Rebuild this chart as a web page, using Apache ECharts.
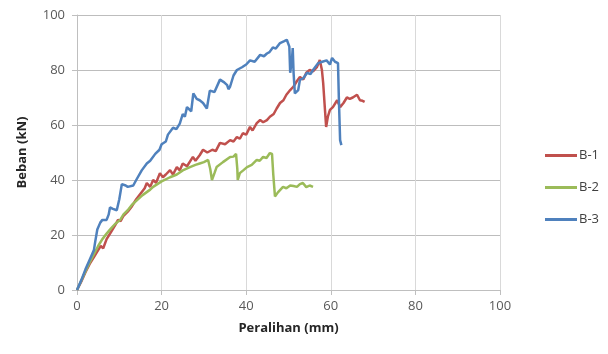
<!DOCTYPE html>
<html>
<head>
<meta charset="utf-8">
<script src="https://cdn.jsdelivr.net/npm/echarts@6/dist/echarts.min.js"></script>
<style>
  html, body { margin: 0; padding: 0; background: #fff; }
  #chart { width: 608px; height: 354px; }
</style>
</head>
<body>
<div id="chart"></div>
<script>
// tick labels and names
var seriesNames = ['B-1', 'B-2', 'B-3'];
var seriesColors = ['#C0504D', '#9BBB59', '#4F81BD'];

// [peralihan (mm), beban (kN)]
var b1 = [[0,0],[1,3],[2,6.5],[3,9.5],[4,12],[5,14.5],[5.6,16],[6.2,15.2],[7,18.5],[8,21],[9,23.5],[9.7,25.5],[10.3,25],[11,27],[12,28.5],[13,30.5],[14,33],[15,35],[16,37],[16.5,38.9],[17.3,37.5],[18,40],[18.7,39],[19.6,42.5],[20.3,41],[21,42],[22,43.6],[22.7,42],[23.6,44.7],[24.3,43.5],[25,46],[26,45],[27.4,48.4],[28,47],[29,49],[29.8,51],[30.8,50],[32,51],[32.8,50.5],[33.8,53.5],[35,53],[36.2,54.5],[37,54],[37.8,55.6],[38.5,55],[39.2,57],[40,56.5],[40.9,59.3],[41.5,58],[42.5,60.7],[43.3,61.8],[44,61],[44.9,61.8],[45.6,63],[46.5,64],[47.2,66],[48,68],[48.8,69],[49.5,71],[50.4,72.7],[51.2,74],[52,76],[52.7,77.5],[53.5,76.5],[54.2,79],[55,80],[55.8,79.5],[56.7,81],[57.4,83.6],[57.9,80],[58.2,75.2],[58.6,66],[58.9,59.3],[59.3,63],[59.8,65.5],[60.5,66.5],[61.5,69],[62.2,66.5],[63,68],[63.8,70],[64.5,69.5],[65.2,70],[66.2,71],[66.9,69],[67.5,68.8],[68,68.4]];

var b2 = [[0,0],[1,3.4],[2,6.8],[3,10],[4,13],[5,16],[5.4,17],[6,18.5],[7,20.5],[8,22.3],[9,24],[10.2,25.5],[11,27.5],[12,29],[13,31],[14.2,32.7],[15.5,34.5],[17.3,36.5],[18,37.5],[20,39.5],[22,41],[23.6,42],[25,43.5],[26.7,44.7],[28,45.5],[29,46],[30,46.5],[31,47.3],[31.5,44],[31.9,40],[32.5,42.5],[33,44.7],[34.5,46.5],[36.2,48.4],[37,48.5],[37.6,49.5],[37.9,44],[38,40],[38.5,42.5],[39.3,43.5],[40.2,44.7],[41.3,45.5],[42.5,47.3],[43.2,47],[44,48.4],[44.8,48],[45.6,49.8],[46.1,49.5],[46.4,42],[46.8,34],[47.5,35.5],[48.7,37.5],[49.5,37],[50.4,38],[51.2,37.8],[52,37.5],[52.7,38.5],[53.4,38.9],[54.2,37.4],[55,38],[55.8,37.5]];

var b3 = [[0,0],[1,3.5],[2,7.5],[3,11],[4,14.5],[4.3,17.5],[4.8,22],[5.5,24.5],[6,25.5],[7,25.5],[7.5,27.5],[7.8,30],[8.5,29.5],[9.4,29],[10,33],[10.6,38.5],[11.5,38],[12,37.5],[13.3,38],[14,40],[15.3,43.5],[16.5,46],[17.3,47],[18.5,49.5],[19.5,51],[20,53],[21,54],[21.5,56.5],[22.7,59],[23.5,58.5],[24.3,60.5],[25,64],[25.5,63],[26,66.5],[27,65],[27.5,71.5],[28.3,69.5],[29,69],[29.8,68],[30.7,66],[31.4,72.5],[32.5,72],[33.8,76.5],[34.8,75.5],[35.5,74.5],[35.8,73],[36.2,74],[37,78],[37.8,80],[39,81],[40,82],[40.9,83.5],[42,83],[43.3,85.5],[44.2,85],[44.9,86],[45.5,86.5],[46.3,88.2],[47,87.8],[48,89.8],[49,90.5],[49.6,91],[50.2,88.5],[50.4,79],[50.8,83.5],[51,88],[51.2,79],[51.5,71.5],[52.3,72.7],[52.7,76.4],[53.5,77],[54.4,79],[55.2,78.5],[55.8,80],[57,82.5],[58,83],[59,83.5],[59.8,82],[60.3,84.4],[61,83],[61.7,82.5],[61.9,70],[62.2,54.5],[62.5,52.7]];

var seriesData = [b1, b2, b3];

var myChart = echarts.init(document.getElementById('chart'));

var font = 'Open Sans, Liberation Sans, sans-serif';

var option = {
    animation: false,
    backgroundColor: '#fff',
    grid: { left: 77, right: 108, top: 15, bottom: 64 },
    legend: {
        orient: 'vertical',
        left: 540,
        top: 144,
        itemGap: 19,
        itemWidth: 32,
        itemHeight: 3,
        icon: 'rect',
        textStyle: { fontFamily: font, fontSize: 13, color: '#404040', padding: [0, 0, 0, -3] },
        data: seriesNames
    },
    xAxis: {
        type: 'value',
        min: 0, max: 100, interval: 20,
        name: 'Peralihan (mm)',
        nameLocation: 'middle',
        nameGap: 32,
        nameTextStyle: { fontFamily: font, fontSize: 13, fontWeight: 'bold', color: '#262626' },
        axisLine: { show: true, lineStyle: { color: '#bfbfbf', width: 1 } },
        axisTick: { show: true, length: 5, lineStyle: { color: '#bfbfbf' } },
        axisLabel: { fontFamily: font, fontSize: 13, color: '#595959', margin: 10 },
        splitLine: { show: true, lineStyle: { color: '#d9d9d9', width: 1 } }
    },
    yAxis: {
        type: 'value',
        min: 0, max: 100, interval: 20,
        name: 'Beban (kN)',
        nameLocation: 'middle',
        nameGap: 48,
        nameRotate: 90,
        nameTextStyle: { fontFamily: font, fontSize: 13, fontWeight: 'bold', color: '#262626' },
        axisLine: { show: true, lineStyle: { color: '#bfbfbf', width: 1 } },
        axisTick: { show: true, length: 5, lineStyle: { color: '#bfbfbf' } },
        axisLabel: { fontFamily: font, fontSize: 13, color: '#595959', margin: 12 },
        splitLine: { show: true, lineStyle: { color: '#bdbdbd', width: 1.2 } }
    },
    series: seriesNames.map(function (name, i) {
        return {
            name: name,
            type: 'line',
            data: seriesData[i],
            showSymbol: false,
            symbol: 'none',
            color: seriesColors[i],
            lineStyle: { color: seriesColors[i], width: 2.5 }
        };
    })
};

myChart.setOption(option, true);
</script>
</body>
</html>
